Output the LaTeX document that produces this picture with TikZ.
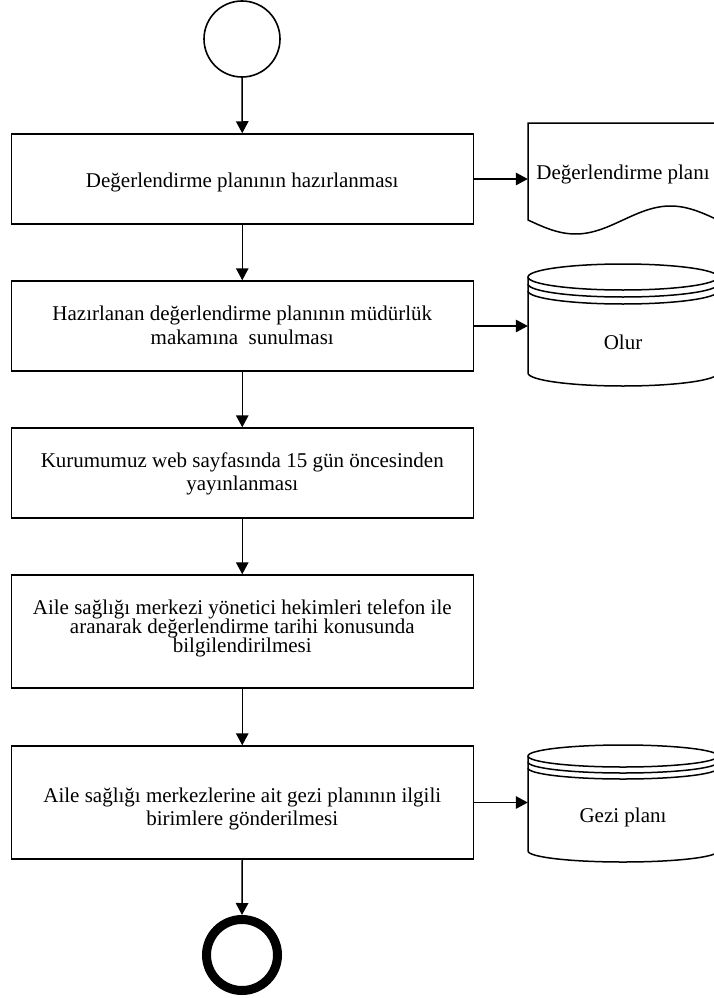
\documentclass[tikz,border=0pt]{standalone}
\usepackage{fontspec}
\setmainfont{Liberation Serif}
\usetikzlibrary{arrows.meta}
\lineskiplimit=-20pt
\begin{document}
\begin{tikzpicture}[x=1pt,y=1pt,
  flowbox/.style={draw, line width=1.5pt, minimum width=462pt, inner sep=0pt},
  flowtext/.style={inner sep=0pt, align=center, font=\fontsize{21}{24}\selectfont},
  flowarrow/.style={line width=1.5pt, -{Triangle[length=12pt,width=12.5pt]}},
  storelabel/.style={inner sep=0pt, minimum width=190pt, font=\fontsize{21}{24}\selectfont},
  outline/.style={line width=1.5pt}]
\useasboundingbox (0,0) rectangle (714,-998);
\clip (0,0) rectangle (714,-998);

% start and end events
\node[circle, draw, line width=1.6pt, minimum size=76pt, inner sep=0pt] (start) at (242,-39) {};
\node[circle, draw, line width=9pt, minimum size=71pt, inner sep=0pt] (stop) at (242,-955) {};

% process steps
\node[flowbox, minimum height=90pt] (b1) at (242.25,-179) {};
\node[flowbox, minimum height=90pt] (b2) at (242.25,-326) {};
\node[flowbox, minimum height=90pt] (b3) at (242.25,-473) {};
\node[flowbox, minimum height=113pt] (b4) at (242.25,-631.5) {};
\node[flowbox, minimum height=113pt] (b5) at (242.25,-802.5) {};

\node[flowtext] (b1t) at ([yshift=-3pt]b1.center) {Değerlendirme planının hazırlanması};
\node[flowtext] (b2t) at ([yshift=1pt]b2.center) {Hazırlanan değerlendirme planının müdürlük\\makamına~ sunulması};
\node[flowtext, font=\fontsize{21}{23}\selectfont] (b3t) at ([yshift=-1pt]b3.center) {Kurumumuz web sayfasında 15 gün öncesinden\\yayınlanması};
\node[flowtext, font=\fontsize{21}{19}\selectfont] (b4t) at ([yshift=3pt]b4.center) {Aile sağlığı merkezi yönetici hekimleri telefon ile\\aranarak değerlendirme tarihi konusunda\\bilgilendirilmesi};
\node[flowtext, font=\fontsize{21}{23}\selectfont] (b5t) at ([yshift=-6pt]b5.center) {Aile sağlığı merkezlerine ait gezi planının ilgili\\birimlere gönderilmesi};

% document: Değerlendirme planı
\draw[outline] (718,-220) -- (718,-123) -- (528,-123) -- (528,-220)
  -- plot[domain=0:190, samples=90] ({528+\x},{-220-14*sin(1.8947*\x)}) -- cycle;
\node[storelabel] (doc) at (623,-174) {Değerlendirme planı};

% data store: Olur
\draw[outline] (528,-277) -- (528,-373) arc[start angle=180, end angle=360, x radius=95, y radius=13] -- (718,-277);
\draw[outline] (623,-277) ellipse[x radius=95, y radius=13];
\draw[outline] (528,-284) arc[start angle=180, end angle=360, x radius=95, y radius=13];
\draw[outline] (528,-291) arc[start angle=180, end angle=360, x radius=95, y radius=13];
\node[storelabel] (olur) at (623,-342) {Olur};

% data store: Gezi planı
\draw[outline] (528,-756) -- (528,-851) arc[start angle=180, end angle=360, x radius=95, y radius=11] -- (718,-756);
\draw[outline] (623,-756) ellipse[x radius=95, y radius=11];
\draw[outline] (528,-762) arc[start angle=180, end angle=360, x radius=95, y radius=11];
\draw[outline] (528,-768) arc[start angle=180, end angle=360, x radius=95, y radius=11];
\node[storelabel] (gezi) at (623,-817) {Gezi planı};

% sequence flow
\draw[flowarrow] (start.south) -- (b1.north);
\draw[flowarrow] (b1.south) -- (b2.north);
\draw[flowarrow] (b2.south) -- (b3.north);
\draw[flowarrow] (b3.south) -- (b4.north);
\draw[flowarrow] (b4.south) -- (b5.north);
\draw[flowarrow] (b5.south) -- (stop.north);

% outputs
\draw[flowarrow] (b1.east) -- (b1.east -| doc.west);
\draw[flowarrow] (b2.east) -- (b2.east -| olur.west);
\draw[flowarrow] (b5.east) -- (b5.east -| gezi.west);
\end{tikzpicture}
\end{document}
